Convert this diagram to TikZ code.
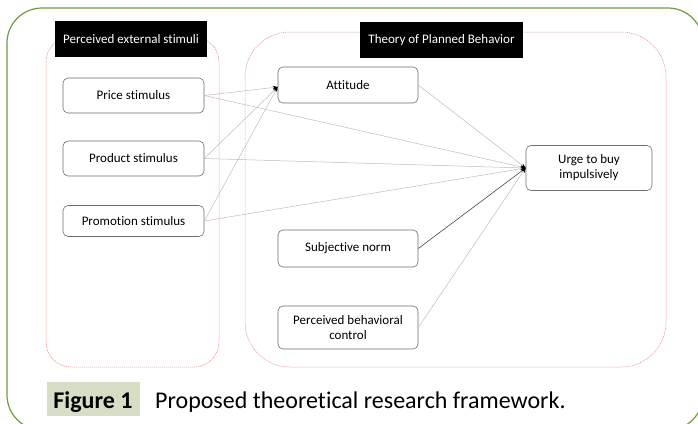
\documentclass[tikz,border=0pt]{standalone}
\usepackage{fontspec}
\setmainfont[Ligatures={NoCommon}]{Carlito}
\usetikzlibrary{arrows.meta}
\definecolor{framegreen}{HTML}{6E9E3C}
\definecolor{dashred}{HTML}{F08C8C}
\definecolor{capbg}{HTML}{D6DFC6}
\definecolor{boxgray}{HTML}{6E6E6E}
\definecolor{linegray}{HTML}{BEBEBE}
\tikzset{
  stimbox/.style={draw=boxgray, line width=0.6pt, rounded corners=5pt, fill=white,
    inner sep=0pt, align=center, font=\fontsize{13}{15}\selectfont},
  blacklabel/.style={fill=black, text=white, inner sep=0pt,
    font=\fontsize{13}{15}\selectfont},
  container/.style={draw=dashred, line width=0.5pt, dash pattern=on 1.2pt off 0.8pt},
  conn/.style={draw=linegray, line width=0.5pt, -{Stealth[length=5pt,width=3.5pt,color=black]}},
  darkconn/.style={draw=black!70, line width=0.6pt, -{Stealth[length=5pt,width=3.5pt,color=black]}}
}
\begin{document}
\begin{tikzpicture}[x=1pt,y=-1pt]
\useasboundingbox (0,0) rectangle (698,423);
\fill[white] (0,0) rectangle (698,423);
% outer green frame
\draw[framegreen, line width=1.2pt, rounded corners=35pt] (7,8) rectangle (703,430);
% containers
\draw[container, rounded corners=25pt] (46,37) rectangle (219,367);
\draw[container, rounded corners=45pt] (245,32) rectangle (666,367);
% labels
\node[blacklabel, minimum width=152pt, minimum height=36pt] (lblL) at (131,39) {Perceived external stimuli};
\node[blacklabel, minimum width=163pt, minimum height=36pt] (lblR) at (441.5,40) {Theory of Planned Behavior};
% boxes
\node[stimbox, minimum width=141pt, minimum height=35pt] (price) at (133.5,95.5) {Price stimulus};
\node[stimbox, minimum width=141pt, minimum height=35pt] (product) at (133.5,158.5) {Product stimulus};
\node[stimbox, minimum width=141pt, minimum height=31pt] (promo) at (133.5,221) {Promotion stimulus};
\node[stimbox, minimum width=140pt, minimum height=36pt] (att) at (348,85) {Attitude};
\node[stimbox, minimum width=126pt, minimum height=45pt] (urge) at (589,168) {Urge to buy\\impulsively};
\node[stimbox, minimum width=140pt, minimum height=37pt] (sn) at (348,248.5) {Subjective norm};
\node[stimbox, minimum width=140pt, minimum height=43pt] (pbc) at (348,327.5) {Perceived behavioral\\control};
% connectors
\coordinate (attin) at ([yshift=-2pt]att.west);
\draw[conn] (price.east) -- (attin);
\draw[conn] (product.east) -- (attin);
\draw[conn] (promo.east) -- (attin);
\draw[conn] (price.east) -- (urge.west);
\draw[conn] (product.east) -- (urge.west);
\draw[conn] (promo.east) -- (urge.west);
\draw[conn] (att.east) -- (urge.west);
\draw[darkconn] (sn.east) -- (urge.west);
\draw[conn] (pbc.east) -- (urge.west);
% caption
\node[fill=capbg, minimum width=93pt, minimum height=34pt, inner sep=0pt] (capbox) at (93.5,399) {};
\node[anchor=base, inner sep=0pt, font=\fontsize{24}{28}\selectfont\bfseries] (fig) at (93,408) {Figure 1};
\node[anchor=base west, inner sep=0pt, font=\fontsize{24}{28}\selectfont] (cap) at (155,408) {Proposed theoretical research framework.};
\end{tikzpicture}
\end{document}
